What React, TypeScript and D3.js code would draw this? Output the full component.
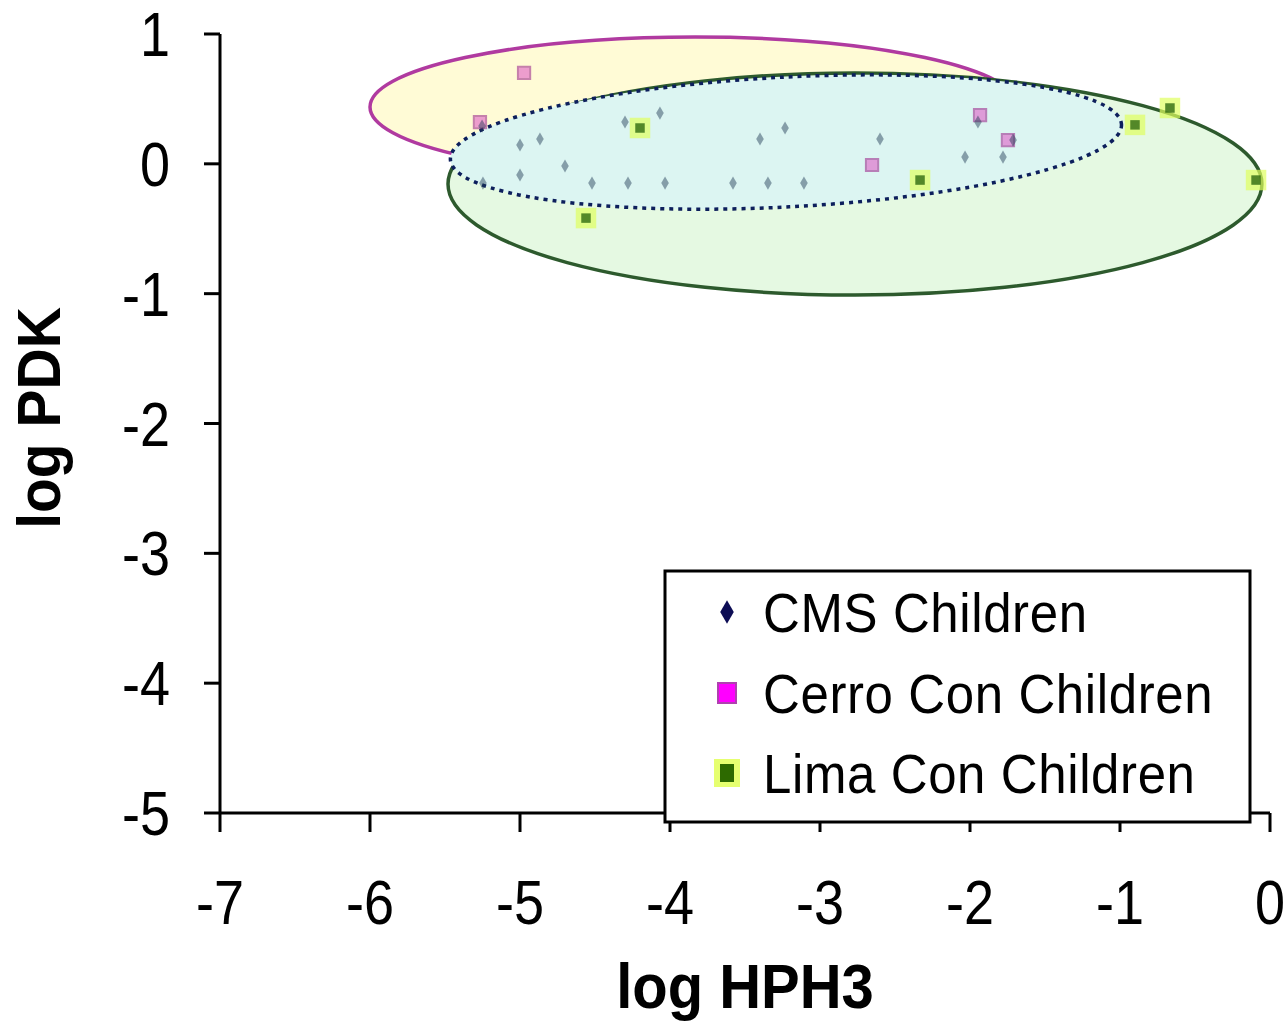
import React from "react";
import * as d3 from "d3";

// ---- data ----
const xTicks = [-7, -6, -5, -4, -3, -2, -1, 0];
const yTicks = [1, 0, -1, -2, -3, -4, -5];
const seriesNames = ["CMS Children", "Cerro Con Children", "Lima Con Children"];

const cmsX = [-5.253, -5.0, -4.867, -4.7, -4.3, -4.067, -5.247, -5.0, -4.52, -4.28, -4.033, -3.58, -3.347, -3.107, -3.233, -3.4, -2.6, -1.947, -1.713, -2.033, -1.78];
const cmsY = [0.291, 0.145, 0.191, -0.017, 0.322, 0.391, -0.148, -0.086, -0.148, -0.148, -0.148, -0.148, -0.148, -0.148, 0.276, 0.191, 0.191, 0.322, 0.183, 0.052, 0.052];

const cerroX = [-4.973, -5.267, -2.653, -1.933, -1.747];
const cerroY = [0.7, 0.322, -0.009, 0.376, 0.183];

const limaX = [-4.56, -0.9, -0.667, -0.093, -2.333, -4.2];
const limaY = [-0.418, 0.3, 0.43, -0.125, -0.125, 0.276];

// ellipses (data units): Cerro, Lima, CMS
const ellCx = [-3.833, -2.767, -3.227];
const ellCy = [0.4376, -0.156, 0.168];
const ellRx = [2.167, 2.713, 2.24];
const ellRy = [0.539, 0.855, 0.5];
const ellAngle = [0, 0, -3];

const FONT = "'Liberation Sans', Arial, Helvetica, sans-serif";

export default function App() {
  const W = 1286;
  const H = 1028;
  const x = d3.scaleLinear().domain([-7, 0]).range([220, 1270]);
  const y = d3.scaleLinear().domain([-5, 1]).range([813, 34]);

  const ellStyles = [
    { fill: "#fffbd6", stroke: "#b03aa0", dash: undefined },
    { fill: "#e5f9e2", stroke: "#2d5a2d", dash: undefined },
    { fill: "#dcf5f2", stroke: "#0d1f5c", dash: "4 5" },
  ];

  const diamond = d3.symbol().type(d3.symbolDiamond).size(50)();
  const square = d3.symbol().type(d3.symbolSquare).size(150)();
  const sqSmall = d3.symbol().type(d3.symbolSquare).size(90)();
  const sqGlow = d3.symbol().type(d3.symbolSquare).size(420)();

  return (
    <svg
      width={W}
      height={H}
      style={{ position: "absolute", left: 0, top: 0, background: "#fff" }}
      fontFamily={FONT}
    >
      <rect x={0} y={0} width={W} height={H} fill="#ffffff" />

      {/* ellipses */}
      {ellCx.map((cx, i) => {
        const px = x(cx);
        const py = y(ellCy[i]);
        const rx = x(cx + ellRx[i]) - px;
        const ry = y(ellCy[i] - ellRy[i]) - py;
        const s = ellStyles[i];
        return (
          <ellipse
            key={"e" + i}
            cx={px}
            cy={py}
            rx={rx}
            ry={ry}
            transform={`rotate(${ellAngle[i]} ${px} ${py})`}
            fill={s.fill}
            stroke={s.stroke}
            strokeWidth={3.5}
            strokeDasharray={s.dash}
          />
        );
      })}

      {/* Lima markers */}
      {limaX.map((v, i) => (
        <g key={"l" + i} transform={`translate(${x(v)},${y(limaY[i])})`}>
          <path d={sqGlow} fill="#e0ff60" opacity={0.7} />
          <path d={sqSmall} fill="#2f6a10" opacity={0.8} />
        </g>
      ))}

      {/* Cerro markers */}
      {cerroX.map((v, i) => (
        <g key={"c" + i} transform={`translate(${x(v)},${y(cerroY[i])})`}>
          <path d={square} fill="#e060c8" stroke="#a03090" strokeWidth={2} opacity={0.6} />
        </g>
      ))}

      {/* CMS markers */}
      {cmsX.map((v, i) => (
        <path
          key={"m" + i}
          d={diamond}
          transform={`translate(${x(v)},${y(cmsY[i])})`}
          fill="#1b3550"
          opacity={0.45}
        />
      ))}

      {/* axes */}
      <line x1={x(-7)} x2={x(-7)} y1={y(1)} y2={y(-5)} stroke="#000" strokeWidth={3} />
      <line x1={x(-7)} x2={x(0)} y1={y(-5)} y2={y(-5)} stroke="#000" strokeWidth={3} />
      {yTicks.map((t) => (
        <g key={"yt" + t}>
          <line x1={x(-7) - 16} x2={x(-7)} y1={y(t)} y2={y(t)} stroke="#000" strokeWidth={3} />
          <text
            transform={`translate(170,${y(t) + 22}) scale(1,1.16)`}
            textAnchor="end"
            fontSize={54}
            fill="#000"
          >
            {String(t)}
          </text>
        </g>
      ))}
      {xTicks.map((t) => (
        <g key={"xt" + t}>
          <line x1={x(t)} x2={x(t)} y1={y(-5)} y2={y(-5) + 19} stroke="#000" strokeWidth={3} />
          <text
            transform={`translate(${x(t)},924) scale(1,1.16)`}
            textAnchor="middle"
            fontSize={54}
            fill="#000"
          >
            {String(t)}
          </text>
        </g>
      ))}

      {/* axis titles */}
      <text
        transform="translate(745,1008) scale(1,1.1)"
        textAnchor="middle"
        fontSize={58}
        fontWeight="bold"
        fill="#000"
      >
        log HPH3
      </text>
      <text
        transform="translate(60,418) rotate(-90) scale(1,1.08)"
        textAnchor="middle"
        fontSize={57}
        fontWeight="bold"
        fill="#000"
      >
        log PDK
      </text>

      {/* legend */}
      <rect x={665} y={571} width={585} height={251} fill="#fff" stroke="#000" strokeWidth={3} />
      <g transform="translate(727,612)">
        <path d={d3.symbol().type(d3.symbolDiamond).size(160)()} fill="#0d0d55" />
      </g>
      <g transform="translate(727,693)">
        <rect x={-9} y={-10} width={18} height={20} fill="#ff00ff" stroke="#b040b0" strokeWidth={2} />
      </g>
      <g transform="translate(727,773)">
        <rect x={-13} y={-14} width={26} height={28} fill="#e6ff70" />
        <rect x={-7} y={-9} width={14} height={18} fill="#2d6a00" />
      </g>
      {seriesNames.map((n, i) => (
        <text
          key={n}
          transform={`translate(763,${632 + i * 80.5}) scale(1,1.1)`}
          fontSize={51}
          letterSpacing={0.6}
          fill="#000"
        >
          {n}
        </text>
      ))}
    </svg>
  );
}
